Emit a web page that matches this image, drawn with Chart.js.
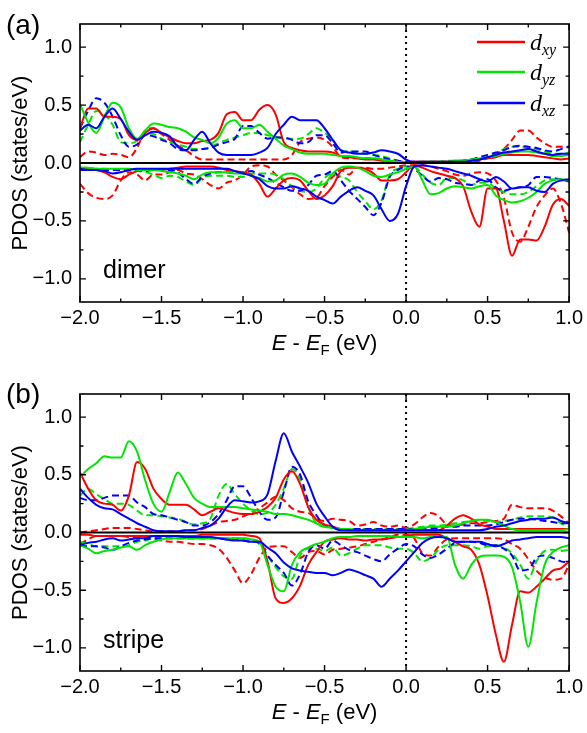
<!DOCTYPE html>
<html>
<head>
<meta charset="utf-8">
<script src="https://cdn.jsdelivr.net/npm/chart.js@4.4.1/dist/chart.umd.min.js"></script>
<style>
  body { margin: 0; background: #fff; width: 587px; height: 733px; position: relative; overflow: hidden; }
  .panel { position: absolute; left: 0; width: 587px; }
  #boxA { top: 0; height: 366px; }
  #boxB { top: 366px; height: 367px; }
</style>
</head>
<body>
<div class="panel" id="boxA"><canvas id="chartA"></canvas></div>
<div class="panel" id="boxB"><canvas id="chartB"></canvas></div>
<script>
// energy grid (eV, relative to E_F)
const energy = [-2.0,-1.95,-1.9,-1.85,-1.8,-1.75,-1.7,-1.65,-1.6,-1.55,
  -1.5,-1.45,-1.4,-1.35,-1.3,-1.25,-1.2,-1.15,-1.1,-1.05,
  -1.0,-0.95,-0.9,-0.85,-0.8,-0.75,-0.7,-0.65,-0.6,-0.55,
  -0.5,-0.45,-0.4,-0.35,-0.3,-0.25,-0.2,-0.15,-0.1,-0.05,
  0.0,0.05,0.1,0.15,0.2,0.25,0.3,0.35,0.4,0.45,
  0.5,0.55,0.6,0.65,0.7,0.75,0.8,0.85,0.9,0.95,1.0];

const xTicks = [-2.0, -1.5, -1.0, -0.5, 0.0, 0.5, 1.0];
const yTicks = [-1.0, -0.5, 0.0, 0.5, 1.0];
const orbitals = ['xy', 'yz', 'xz'];

// (a) dimer -- "1" = solid, "2" = dashed
const aXyUp1 = [.30,.47,.47,.40,.40,.38,.24,.20,.26,.30, .26,.22,.19,.17,.17,.19,.20,.26,.42,.44,
  .37,.37,.46,.50,.42,.18,.13,.11,.10,.10, .10,.09,.06,.05,.04,.03,.03,.02,.02,.01,
  .00,.01,.01,.01,.01,.01,.02,.02,.02,.03, .04,.05,.07,.07,.07,.07,.06,.05,.04,.03, .04];
const aXyUp2 = [.05,.10,.09,.07,.08,.07,.05,.13,.28,.30, .25,.20,.15,.11,.06,.03,.03,.03,.03,.03,
  .03,.03,.03,.03,.03,.03,.07,.18,.21,.22, .20,.14,.05,.04,.04,.04,.04,.03,.02,.01,
  .01,.01,.01,.01,.01,.01,.01,.01,.01,.02, .04,.07,.12,.20,.28,.28,.22,.17,.14,.14, .14];
const aYzUp1 = [.51,.35,.26,.40,.52,.48,.30,.21,.28,.34, .33,.31,.30,.27,.22,.20,.17,.22,.34,.37,
  .30,.30,.33,.27,.21,.15,.12,.09,.08,.08, .08,.07,.06,.06,.05,.04,.04,.03,.02,.01,
  .00,.00,.01,.01,.01,.01,.02,.02,.03,.04, .05,.06,.08,.09,.10,.10,.09,.08,.06,.06, .07];
const aYzUp2 = [.18,.33,.45,.42,.33,.18,.17,.19,.26,.25, .21,.18,.16,.14,.12,.12,.14,.17,.20,.22,
  .24,.26,.26,.24,.23,.21,.21,.21,.25,.30, .26,.20,.11,.10,.09,.08,.07,.06,.04,.02,
  .01,.00,.00,.01,.01,.02,.02,.02,.03,.04, .05,.08,.12,.14,.14,.13,.12,.10,.08,.08, .09];
const aXzUp1 = [.28,.33,.30,.40,.47,.38,.27,.20,.24,.27, .26,.23,.14,.11,.20,.27,.17,.09,.07,.07,
  .07,.07,.09,.13,.25,.33,.40,.37,.37,.37, .30,.20,.11,.09,.08,.08,.09,.11,.10,.08,
  .03,.01,.01,.01,.01,.01,.01,.01,.02,.03, .05,.07,.09,.10,.11,.12,.10,.08,.07,.08, .08];
const aXzUp2 = [.30,.45,.56,.52,.40,.24,.14,.16,.24,.23, .20,.17,.12,.11,.11,.12,.13,.16,.18,.21,
  .32,.32,.26,.21,.22,.22,.20,.17,.18,.24, .24,.17,.09,.10,.10,.10,.07,.05,.03,.02,
  .01,.00,.00,.00,.00,.01,.01,.02,.03,.05, .07,.09,.11,.14,.15,.14,.13,.11,.10,.12, .14];
const aXyDn1 = [-.05,-.05,-.06,-.08,-.12,-.14,-.10,-.07,-.06,-.06, -.06,-.05,-.04,-.03,-.03,-.03,-.03,-.04,-.06,-.07,
  -.08,-.10,-.18,-.29,-.22,-.15,-.13,-.15,-.24,-.31, -.28,-.20,-.07,-.04,-.04,-.05,-.09,-.15,-.15,-.14,
  -.08,-.02,-.04,-.07,-.09,-.11,-.13,-.20,-.42,-.55, -.22,-.22,-.50,-.80,-.66,-.66,-.67,-.55,-.36,-.31, -.37];
const aXyDn2 = [-.18,-.26,-.30,-.31,-.28,-.15,-.08,-.10,-.15,-.10, -.10,-.08,-.06,-.09,-.10,-.14,-.19,-.22,-.17,-.15,
  -.10,-.03,-.02,-.03,-.10,-.15,-.21,-.27,-.31,-.30, -.20,-.12,-.06,-.10,-.04,-.04,-.05,-.05,-.04,-.03,
  -.02,-.02,-.02,-.03,-.05,-.07,-.10,-.11,-.09,-.08, -.09,-.15,-.30,-.60,-.68,-.55,-.38,-.28,-.22,-.35, -.60];
const aYzDn1 = [-.04,-.04,-.05,-.05,-.05,-.05,-.05,-.06,-.06,-.06, -.07,-.08,-.09,-.11,-.14,-.10,-.08,-.08,-.08,-.09,
  -.09,-.11,-.13,-.16,-.15,-.10,-.09,-.12,-.17,-.19, -.18,-.09,-.04,-.03,-.04,-.07,-.11,-.12,-.10,-.08,
  -.05,-.03,-.15,-.27,-.26,-.22,-.20,-.21,-.22,-.20, -.19,-.28,-.32,-.34,-.33,-.30,-.25,-.18,-.15,-.14, -.15];
const aYzDn2 = [-.04,-.04,-.05,-.05,-.06,-.06,-.07,-.07,-.08,-.10, -.13,-.11,-.12,-.16,-.19,-.13,-.11,-.11,-.11,-.12,
  -.12,-.09,-.09,-.09,-.10,-.14,-.20,-.24,-.25,-.22, -.13,-.09,-.12,-.15,-.25,-.33,-.40,-.32,-.10,-.05,
  -.03,-.03,-.10,-.17,-.19,-.13,-.13,-.15,-.19,-.17, -.17,-.22,-.25,-.27,-.27,-.25,-.20,-.15,-.14,-.15, -.15];
const aXzDn1 = [-.05,-.06,-.06,-.07,-.09,-.08,-.06,-.05,-.05,-.05, -.05,-.05,-.05,-.05,-.05,-.05,-.05,-.05,-.05,-.07,
  -.09,-.11,-.14,-.20,-.22,-.22,-.20,-.22,-.24,-.29, -.32,-.35,-.29,-.24,-.21,-.24,-.28,-.40,-.50,-.44,
  -.20,-.03,-.02,-.03,-.04,-.05,-.07,-.09,-.11,-.14, -.16,-.12,-.16,-.22,-.21,-.21,-.24,-.25,-.18,-.15, -.14];
const aXzDn2 = [-.06,-.06,-.06,-.06,-.06,-.06,-.06,-.06,-.07,-.06, -.06,-.06,-.08,-.14,-.18,-.12,-.09,-.08,-.08,-.09,
  -.08,-.07,-.10,-.13,-.17,-.21,-.24,-.24,-.19,-.11, -.10,-.07,-.15,-.24,-.31,-.38,-.45,-.34,-.12,-.06,
  -.03,-.05,-.11,-.16,-.13,-.14,-.17,-.18,-.19,-.15, -.14,-.21,-.24,-.22,-.21,-.19,-.12,-.12,-.13,-.14, -.16];

// (b) stripe
const bXyUp1 = [.52,.38,.28,.25,.24,.19,.32,.61,.55,.38, .29,.24,.24,.24,.20,.15,.18,.21,.19,.17,
  .16,.16,.18,.22,.30,.46,.53,.42,.22,.11, .07,.05,.03,.02,.02,.02,.02,.02,.02,.02,
  .02,.02,.02,.02,.02,.06,.12,.15,.12,.07, .05,.03,.03,.03,.03,.03,.03,.03,.03,.03, .03];
const bXyUp2 = [.00,.01,.02,.03,.04,.04,.04,.03,.02,.01, .01,.01,.01,.02,.02,.03,.06,.09,.10,.11,
  .14,.17,.21,.26,.31,.28,.21,.18,.17,.12, .10,.12,.11,.10,.06,.07,.09,.06,.05,.06,
  .04,.07,.13,.17,.14,.07,.06,.07,.08,.08, .09,.10,.12,.24,.22,.21,.21,.21,.19,.14, .08];
const bYzUp1 = [.48,.55,.60,.66,.65,.65,.79,.70,.45,.25, .18,.35,.52,.42,.30,.25,.22,.22,.22,.22,
  .21,.20,.19,.18,.16,.16,.15,.13,.11,.08, .05,.04,.03,.03,.02,.02,.02,.02,.02,.02,
  .02,.03,.04,.05,.05,.05,.06,.08,.10,.11, .11,.09,.06,.03,.02,.02,.02,.02,.02,.02, .03];
const bYzUp2 = [.32,.38,.33,.29,.25,.25,.24,.19,.15,.15, .14,.13,.12,.09,.07,.08,.12,.32,.42,.33,
  .25,.19,.16,.17,.24,.38,.55,.46,.22,.08, .05,.04,.03,.03,.03,.03,.03,.03,.03,.03,
  .03,.04,.05,.06,.06,.07,.08,.09,.10,.11, .10,.09,.10,.11,.13,.14,.14,.14,.13,.08, .05];
const bXzUp1 = [.38,.30,.24,.21,.20,.16,.12,.08,.05,.02, .01,.01,.01,.02,.02,.04,.06,.12,.22,.28,
  .27,.26,.27,.33,.62,.86,.70,.57,.43,.25, .14,.05,.02,.02,.02,.02,.02,.02,.02,.02,
  .02,.02,.02,.02,.02,.02,.02,.02,.02,.02, .03,.05,.06,.08,.10,.11,.12,.12,.13,.10, .08];
const bXzUp2 = [.30,.28,.28,.30,.32,.32,.32,.26,.22,.16, .15,.13,.11,.09,.06,.06,.09,.16,.28,.40,
  .40,.30,.18,.11,.13,.35,.57,.50,.27,.15, .06,.04,.03,.03,.03,.03,.03,.03,.03,.03,
  .03,.03,.04,.04,.04,.05,.05,.06,.06,.06, .06,.07,.09,.11,.12,.12,.11,.10,.09,.08, .08];
const bXyDn1 = [-.02,-.02,-.03,-.03,-.03,-.03,-.03,-.03,-.03,-.03, -.03,-.03,-.03,-.03,-.03,-.02,-.02,-.02,-.02,-.02,
  -.02,-.03,-.05,-.25,-.57,-.61,-.57,-.46,-.28,-.17, -.08,-.06,-.05,-.06,-.06,-.07,-.06,-.06,-.05,-.04,
  -.03,-.02,-.02,-.02,-.02,-.05,-.08,-.12,-.15,-.28, -.55,-.88,-1.12,-.80,-.51,-.52,-.47,-.40,-.33,-.31, -.25];
const bXyDn2 = [-.10,-.06,-.03,-.03,-.03,-.03,-.04,-.05,-.05,-.06, -.07,-.08,-.08,-.09,-.10,-.10,-.11,-.14,-.22,-.33,
  -.44,-.36,-.22,-.13,-.12,-.12,-.17,-.22,-.17,-.16, -.19,-.15,-.14,-.13,-.12,-.10,-.08,-.06,-.04,-.02,
  -.02,-.05,-.18,-.20,-.12,-.06,-.05,-.05,-.05,-.05, -.05,-.05,-.06,-.10,-.14,-.23,-.33,-.39,-.41,-.40, -.28];
const bYzDn1 = [-.11,-.14,-.18,-.16,-.15,-.13,-.12,-.15,-.11,-.08, -.06,-.05,-.05,-.05,-.05,-.05,-.05,-.05,-.05,-.05,
  -.05,-.06,-.08,-.28,-.47,-.51,-.28,-.17,-.13,-.10, -.08,-.05,-.04,-.04,-.03,-.03,-.03,-.03,-.03,-.04,
  -.04,-.04,-.05,-.04,-.04,-.04,-.28,-.40,-.28,-.21, -.20,-.20,-.21,-.30,-.60,-.99,-.61,-.28,-.17,-.13, -.11];
const bYzDn2 = [-.08,-.10,-.12,-.12,-.12,-.12,-.11,-.08,-.07,-.05, -.05,-.05,-.05,-.05,-.05,-.05,-.05,-.05,-.05,-.05,
  -.05,-.06,-.10,-.20,-.30,-.38,-.40,-.20,-.14,-.14, -.16,-.13,-.20,-.18,-.14,-.11,-.11,-.11,-.13,-.14,
  -.14,-.18,-.25,-.22,-.15,-.11,-.11,-.11,-.12,-.14, -.12,-.11,-.13,-.18,-.28,-.40,-.25,-.16,-.15,-.16, -.15];
const bXzDn1 = [-.11,-.09,-.08,-.06,-.05,-.07,-.06,-.05,-.05,-.03, -.03,-.03,-.03,-.04,-.04,-.04,-.04,-.05,-.06,-.07,
  -.07,-.08,-.08,-.13,-.18,-.26,-.31,-.33,-.34,-.35, -.35,-.37,-.35,-.32,-.34,-.37,-.40,-.47,-.40,-.33,
  -.25,-.17,-.09,-.05,-.04,-.05,-.08,-.08,-.08,-.08, -.10,-.12,-.10,-.07,-.06,-.05,-.04,-.04,-.04,-.04, -.05];
const bXzDn2 = [-.11,-.12,-.12,-.13,-.15,-.12,-.09,-.07,-.06,-.05, -.05,-.05,-.05,-.05,-.05,-.05,-.05,-.05,-.06,-.06,
  -.07,-.08,-.09,-.20,-.28,-.35,-.46,-.36,-.17,-.11, -.14,-.07,-.11,-.15,-.17,-.20,-.23,-.25,-.19,-.14,
  -.10,-.12,-.19,-.22,-.19,-.14,-.09,-.08,-.08,-.09, -.11,-.11,-.14,-.20,-.33,-.32,-.22,-.20,-.22,-.25, -.26];

const colors = { xy: '#ff0000', yz: '#00e600', xz: '#0000ff' };

function series(vals, color, dashed, order) {
  return {
    data: energy.map((e, i) => ({ x: e, y: vals[i] })),
    borderColor: color,
    borderWidth: 2,
    borderDash: dashed ? [7, 4] : [],
    pointRadius: 0,
    cubicInterpolationMode: 'monotone',
    fill: false,
    order: order
  };
}

function fmt(v) {
  return (v < 0 ? '\u2212' : '') + Math.abs(v).toFixed(1);
}

// frame, inward ticks, zero line, labels
const deco = {
  id: 'deco',
  beforeDatasetsDraw(chart) {
    const c = chart.ctx, a = chart.chartArea, x0 = chart.scales.x.getPixelForValue(0);
    c.save();
    c.strokeStyle = '#000';
    c.lineWidth = 2;
    c.setLineDash([2, 4]);
    c.beginPath();
    c.moveTo(x0, a.top);
    c.lineTo(x0, a.bottom);
    c.stroke();
    c.restore();
  },
  afterDatasetsDraw(chart) {
    const c = chart.ctx, a = chart.chartArea, sx = chart.scales.x, sy = chart.scales.y;
    c.save();
    c.strokeStyle = '#000';
    const y0 = sy.getPixelForValue(0);
    c.lineWidth = 2;
    c.beginPath();
    c.moveTo(a.left, y0);
    c.lineTo(a.right, y0);
    c.stroke();

    c.lineWidth = 1.6;
    c.strokeRect(a.left, a.top, a.right - a.left, a.bottom - a.top);
    c.lineWidth = 1.4;
    c.beginPath();
    for (let v = -2; v <= 1.001; v += 0.25) {
      const px = sx.getPixelForValue(v);
      const len = Math.abs(v * 2 - Math.round(v * 2)) < 0.01 ? 6 : 3.5;
      c.moveTo(px, a.bottom); c.lineTo(px, a.bottom - len);
      c.moveTo(px, a.top); c.lineTo(px, a.top + len);
    }
    for (let v = -1.0; v <= 1.001; v += 0.25) {
      const py = sy.getPixelForValue(v);
      const len = Math.abs(v * 2 - Math.round(v * 2)) < 0.01 ? 6 : 3.5;
      c.moveTo(a.left, py); c.lineTo(a.left + len, py);
      c.moveTo(a.right, py); c.lineTo(a.right - len, py);
    }
    c.stroke();
    c.restore();
  },
  afterDraw(chart, args, opts) {
    const c = chart.ctx, a = chart.chartArea;
    c.save();
    c.fillStyle = '#000';
    c.textAlign = 'left';
    c.textBaseline = 'alphabetic';

    c.font = '28px "Liberation Sans", Arial, sans-serif';
    c.fillText(opts.label, 6, opts.labelY);

    c.font = '25px "Liberation Sans", Arial, sans-serif';
    c.fillText(opts.tag, 103, opts.tagY);

    // y title
    c.save();
    c.translate(27, (a.top + a.bottom) / 2);
    c.rotate(-Math.PI / 2);
    c.textAlign = 'center';
    c.font = '22px "Liberation Sans", Arial, sans-serif';
    c.fillText('PDOS (states/eV)', 0, 0);
    c.restore();

    // x title: E - E_F (eV)
    const it = 'italic 22px "Liberation Sans", Arial, sans-serif';
    const up = '22px "Liberation Sans", Arial, sans-serif';
    const sub = '15px "Liberation Sans", Arial, sans-serif';
    const parts = [[it, 'E', 0], [up, ' - ', 0], [it, 'E', 0], [sub, 'F', 5], [up, ' (eV)', 0]];
    let w = 0;
    parts.forEach(p => { c.font = p[0]; w += c.measureText(p[1]).width; });
    let x = (a.left + a.right) / 2 - w / 2;
    parts.forEach(p => {
      c.font = p[0];
      c.fillText(p[1], x, opts.titleY + p[2]);
      x += c.measureText(p[1]).width;
    });

    if (opts.legend) {
      const rowsY = [42, 72, 103];
      orbitals.forEach((o, i) => {
        const y = rowsY[i];
        c.strokeStyle = colors[o];
        c.lineWidth = 2.5;
        c.beginPath();
        c.moveTo(477, y);
        c.lineTo(525, y);
        c.stroke();
        c.font = 'italic 24px "Liberation Serif", "Times New Roman", serif';
        c.fillText('d', 530, y + 8);
        const dw = c.measureText('d').width;
        c.font = 'italic 16px "Liberation Serif", "Times New Roman", serif';
        c.fillText(o, 530 + dw, y + 13);
      });
    }
    c.restore();
  }
};

function makeChart(id, sets, cfg) {
  const ds = [];
  sets.forEach((s, k) => {
    const col = colors[orbitals[k]];
    ds.push(series(s[0], col, false, 10 - k));
    ds.push(series(s[2], col, false, 10 - k));
    ds.push(series(s[1], col, true, 20 - k));
    ds.push(series(s[3], col, true, 20 - k));
  });
  const tickFont = { family: '"Liberation Sans", Arial, sans-serif', size: 20 };
  return new Chart(document.getElementById(id), {
    type: 'line',
    data: { datasets: ds },
    options: {
      responsive: true,
      maintainAspectRatio: false,
      devicePixelRatio: 1,
      animation: false,
      layout: { padding: { top: cfg.topPad, right: 15, left: 0, bottom: 0 } },
      plugins: {
        legend: { display: false },
        tooltip: { enabled: false },
        deco: cfg
      },
      scales: {
        x: {
          type: 'linear', min: -2, max: 1,
          grid: { display: false, drawTicks: false },
          border: { display: false },
          ticks: { font: tickFont, color: '#000', padding: 4, maxRotation: 0, autoSkip: false, callback: fmt },
          afterBuildTicks: s => { s.ticks = xTicks.map(v => ({ value: v })); },
          afterFit: s => { s.height = cfg.bottomSpace; }
        },
        y: {
          type: 'linear', min: -1.2, max: 1.2,
          grid: { display: false, drawTicks: false },
          border: { display: false },
          ticks: { font: tickFont, color: '#000', padding: 8, callback: fmt },
          afterBuildTicks: s => { s.ticks = yTicks.map(v => ({ value: v })); },
          afterFit: s => { s.width = 80; }
        }
      }
    },
    plugins: [deco]
  });
}

makeChart('chartA',
  [[aXyUp1, aXyUp2, aXyDn1, aXyDn2], [aYzUp1, aYzUp2, aYzDn1, aYzDn2], [aXzUp1, aXzUp2, aXzDn1, aXzDn2]],
  { topPad: 24, bottomSpace: 64, label: '(a)', labelY: 34, tag: 'dimer', tagY: 278, titleY: 350, legend: true });

makeChart('chartB',
  [[bXyUp1, bXyUp2, bXyDn1, bXyDn2], [bYzUp1, bYzUp2, bYzDn1, bYzDn2], [bXzUp1, bXzUp2, bXzDn1, bXzDn2]],
  { topPad: 28, bottomSpace: 62, label: '(b)', labelY: 37, tag: 'stripe', tagY: 282, titleY: 353, legend: false });
</script>
</body>
</html>
